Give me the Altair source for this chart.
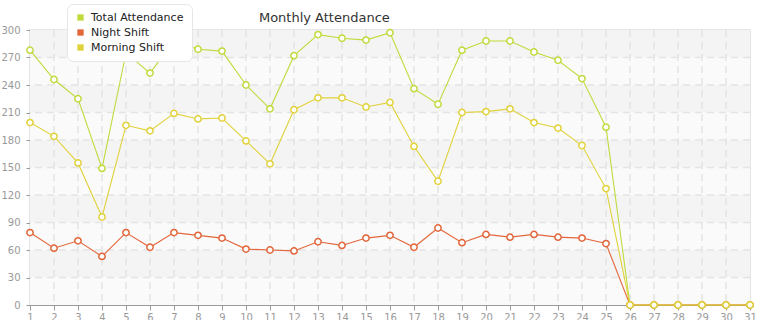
import altair as alt
import pandas as pd

days = list(range(1, 32))
series_names = ["Total Attendance", "Night Shift", "Morning Shift"]
series_colors = ["#bfdb3c", "#e2663a", "#e0d23a"]

total = [278, 246, 225, 149, 275, 253, 288, 279, 277, 240, 214, 272, 295, 291, 289, 297,
         236, 219, 278, 288, 288, 276, 267, 247, 194, 0, 0, 0, 0, 0, 0]
night = [79, 62, 70, 53, 79, 63, 79, 76, 73, 61, 60, 59, 69, 65, 73, 76,
         63, 84, 68, 77, 74, 77, 74, 73, 67, 0, 0, 0, 0, 0, 0]
morning = [199, 184, 155, 96, 196, 190, 209, 203, 204, 179, 154, 213, 226, 226, 216, 221,
           173, 135, 210, 211, 214, 199, 193, 174, 127, 0, 0, 0, 0, 0, 0]

y_ticks = [0, 30, 60, 90, 120, 150, 180, 210, 240, 270, 300]
band_lo = [0, 30, 60, 90, 120, 150, 180, 210, 240, 270]
band_hi = [30, 60, 90, 120, 150, 180, 210, 240, 270, 300]
band_kind = ["a", "b", "a", "b", "a", "b", "a", "b", "a", "b"]

FONT = "DejaVu Sans"

rows = []
for name, vals in zip(series_names, [total, night, morning]):
    for d, v in zip(days, vals):
        rows.append({"day": d, "value": v, "series": name})
df = pd.DataFrame(rows)

bands = pd.DataFrame({"lo": band_lo, "hi": band_hi, "kind": band_kind})
hgrid = pd.DataFrame({"y": y_ticks[1:-1]})
vgrid = pd.DataFrame({"x": days[1:-1]})

xscale = alt.Scale(domain=[1, 31], nice=False, zero=False)
yscale = alt.Scale(domain=[0, 300], nice=False)
cscale = alt.Scale(domain=series_names, range=series_colors)

x_axis = alt.Axis(values=days, title=None, grid=False, labelFont=FONT, labelFontSize=10,
                  labelColor="#999999", domainColor="#999999", tickColor="#999999",
                  tickSize=5, labelPadding=2, labelFlush=False, labelOverlap=False)
y_axis = alt.Axis(values=y_ticks, title=None, grid=False, labelFont=FONT, labelFontSize=10,
                  labelColor="#999999", domainColor="#999999", tickColor="#999999",
                  tickSize=4, labelPadding=6)

X = alt.X("day:Q", scale=xscale, axis=x_axis)
Y = alt.Y("value:Q", scale=yscale, axis=y_axis)

band_layer = alt.Chart(bands).mark_rect().encode(
    y=alt.Y("lo:Q", scale=yscale, axis=y_axis),
    y2="hi:Q",
    fill=alt.Fill("kind:N", scale=alt.Scale(domain=["a", "b"], range=["#fafafa", "#f4f4f4"]), legend=None),
)

hgrid_layer = alt.Chart(hgrid).mark_rule(color="#e4e4e4", strokeWidth=1.5, strokeDash=[7, 5]).encode(
    y=alt.Y("y:Q", scale=yscale, axis=y_axis)
)
vgrid_layer = alt.Chart(vgrid).mark_rule(color="#e4e4e4", strokeWidth=1.5, strokeDash=[7, 5]).encode(
    x=alt.X("x:Q", scale=xscale, axis=x_axis)
)

legend_layer = alt.Chart(df).mark_square(opacity=0, size=10).encode(
    x=X,
    y=Y,
    color=alt.Color("series:N", scale=cscale, sort=series_names,
                    legend=alt.Legend(title=None, orient="none", legendX=37, legendY=-26,
                                      padding=8, fillColor="white", strokeColor="#e6e6e6",
                                      cornerRadius=6, symbolType="square", symbolSize=40,
                                      symbolOpacity=1, symbolStrokeWidth=0,
                                      labelFont=FONT, labelFontSize=11, labelColor="#222222",
                                      labelOffset=5, rowPadding=3)),
)

line_layer = alt.Chart(df).mark_line(strokeWidth=1.1).encode(
    x=X,
    y=Y,
    color=alt.Color("series:N", scale=cscale, legend=None),
    detail="series:N",
    order=alt.Order("day:Q"),
)

point_layer = alt.Chart(df).mark_point(filled=True, size=40, strokeWidth=1.5, opacity=1).encode(
    x=X,
    y=Y,
    fill=alt.value("white"),
    stroke=alt.Stroke("series:N", scale=cscale, legend=None),
)

lines_pts = []
for name in series_names:
    sub_l = line_layer.transform_filter(alt.datum.series == name)
    sub_p = point_layer.transform_filter(alt.datum.series == name)
    lines_pts += [sub_l, sub_p]

chart = alt.layer(
    band_layer, hgrid_layer, vgrid_layer, legend_layer, *lines_pts
).properties(
    width=720, height=275,
    title=alt.TitleParams("Monthly Attendance", anchor="start", dx=258, dy=26, offset=5,
                          font=FONT, fontSize=13, fontWeight="normal", color="#333333"),
    autosize=alt.AutoSizeParams(type="none"),
    padding={"left": 30, "top": 30, "right": 15, "bottom": 15},
).configure_view(stroke="#dddddd", strokeWidth=1.5)

chart.save("out.html", embed_options={"renderer": "svg", "actions": False})
